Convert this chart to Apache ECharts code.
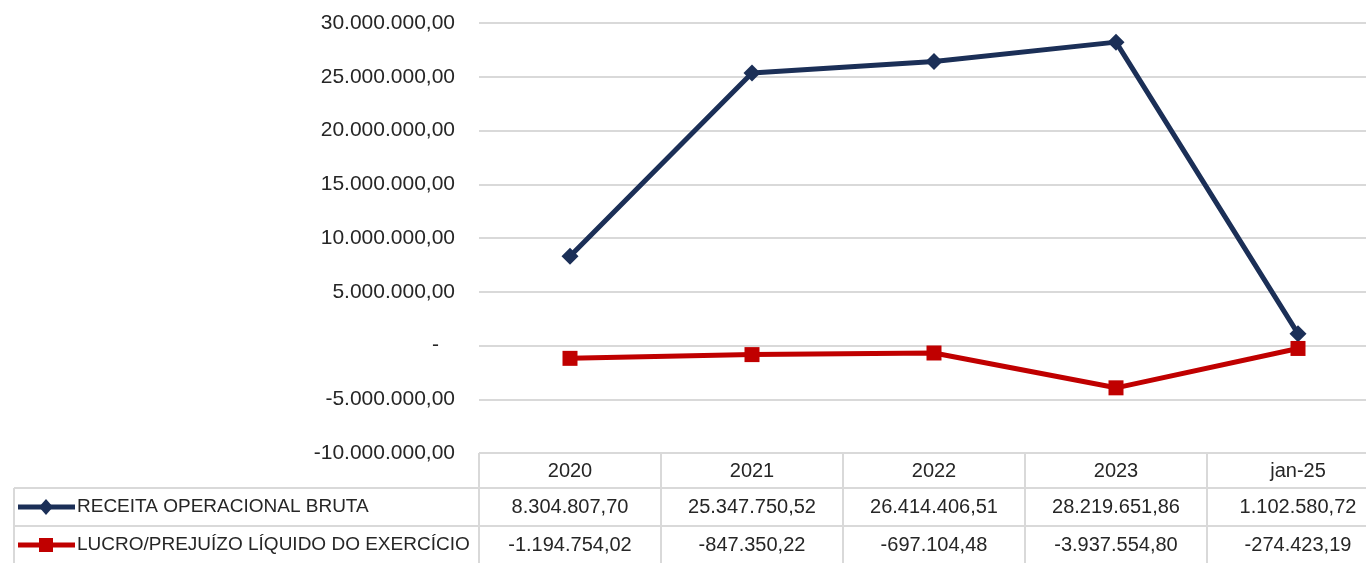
<!DOCTYPE html>
<html>
<head>
<meta charset="utf-8">
<script src="https://cdn.jsdelivr.net/npm/echarts@6/dist/echarts.min.js"></script>
<style>
html,body{margin:0;padding:0;background:#fff;}
#chart{width:1366px;height:563px;}
</style>
</head>
<body>
<div id="chart"></div>
<script>
const categories = ['2020', '2021', '2022', '2023', 'jan-25'];
const seriesNames = ['RECEITA OPERACIONAL BRUTA', 'LUCRO/PREJUÍZO LÍQUIDO DO EXERCÍCIO'];
const receita = [8304807.70, 25347750.52, 26414406.51, 28219651.86, 1102580.72];
const lucro = [-1194754.02, -847350.22, -697104.48, -3937554.80, -274423.19];
const yMin = -10000000, yMax = 30000000, yStep = 5000000;

const colors = ['#1B2F57', '#C00000'];
const FONT = '"Liberation Sans", Arial, sans-serif';
const TXT = '#262626';
const LINE = '#D9D9D9';

function fmt(v) {
  const neg = v < 0;
  const a = Math.abs(v);
  const fixed = a.toFixed(2);
  let [ip, dp] = fixed.split('.');
  ip = ip.replace(/\B(?=(\d{3})+(?!\d))/g, '.');
  return (neg ? '-' : '') + ip + ',' + dp;
}

const chart = echarts.init(document.getElementById('chart'), null, {renderer: 'canvas'});
const option = {
  animation: false,
  backgroundColor: '#fff',
  grid: {left: 479, top: 23, width: 910, height: 430, containLabel: false, outerBoundsMode: 'none'},
  xAxis: {
    type: 'category', data: categories, boundaryGap: true,
    axisLine: {show: false}, axisTick: {show: false}, axisLabel: {show: false}
  },
  yAxis: {
    type: 'value', min: yMin, max: yMax, interval: yStep,
    axisLine: {show: false}, axisTick: {show: false},
    splitLine: {lineStyle: {color: LINE, width: 2}},
    axisLabel: {
      margin: 24, color: TXT, fontFamily: FONT, fontSize: 21,
      formatter: v => v === 0 ? '{z|-}' : fmt(v),
      rich: {z: {padding: [0, 16, 0, 0], color: TXT, fontFamily: FONT, fontSize: 21}}
    }
  },
  series: [
    {name: seriesNames[0], type: 'line', data: receita, symbol: 'diamond', symbolSize: 17,
     lineStyle: {color: colors[0], width: 5}, itemStyle: {color: colors[0]}, z: 3},
    {name: seriesNames[1], type: 'line', data: lucro, symbol: 'rect', symbolSize: 15,
     lineStyle: {color: colors[1], width: 5}, itemStyle: {color: colors[1]}, z: 4}
  ]
};
chart.setOption(option);

// Data table under the plot, positioned from the axis scales
const centers = categories.map((c, i) => chart.convertToPixel({gridIndex: 0}, [i, 0])[0]);
const band = centers[1] - centers[0];
const yTop = chart.convertToPixel({gridIndex: 0}, [0, yMin])[1];
const rowH = [35, 38, 40];
const rowTop = [yTop, yTop + rowH[0], yTop + rowH[0] + rowH[1]];
const tableBottom = rowTop[2] + rowH[2];
const leftX = 14;
const plotLeft = centers[0] - band / 2;
const plotRight = centers[centers.length - 1] + band / 2;
const els = [];
const ls = {stroke: LINE, lineWidth: 2};
els.push({type: 'line', shape: {x1: leftX, y1: rowTop[1], x2: plotRight, y2: rowTop[1]}, style: ls, silent: true});
els.push({type: 'line', shape: {x1: leftX, y1: rowTop[2], x2: plotRight, y2: rowTop[2]}, style: ls, silent: true});
els.push({type: 'line', shape: {x1: leftX, y1: rowTop[1], x2: leftX, y2: tableBottom}, style: ls, silent: true});
for (let i = 0; i <= categories.length; i++) {
  const x = plotLeft + i * band;
  els.push({type: 'line', shape: {x1: x, y1: yTop, x2: x, y2: tableBottom}, style: ls, silent: true});
}
const tStyle = (t, x, y, align, size) => ({type: 'text', x: x, y: y, silent: true,
  style: {text: t, fill: TXT, font: (size || 20) + 'px ' + FONT, textAlign: align || 'center', textVerticalAlign: 'middle'}});
categories.forEach((c, i) => {
  els.push(tStyle(c, centers[i], rowTop[0] + rowH[0] / 2 + 1));
  els.push(tStyle(fmt(receita[i]), centers[i], rowTop[1] + rowH[1] / 2));
  els.push(tStyle(fmt(lucro[i]), centers[i], rowTop[2] + 19));
});
[0, 1].forEach(k => {
  const cy = rowTop[k + 1] + 19;
  els.push({type: 'line', shape: {x1: 18, y1: cy, x2: 75, y2: cy}, style: {stroke: colors[k], lineWidth: 5}, silent: true});
  if (k === 0) {
    els.push({type: 'polygon', shape: {points: [[46, cy - 8], [53, cy], [46, cy + 8], [39, cy]]}, style: {fill: colors[k]}, silent: true});
  } else {
    els.push({type: 'rect', shape: {x: 39, y: cy - 7, width: 14, height: 14}, style: {fill: colors[k]}, silent: true});
  }
  els.push(tStyle(seriesNames[k], 77, cy, 'left', 19));
});
chart.setOption({graphic: els});
</script>
</body>
</html>
